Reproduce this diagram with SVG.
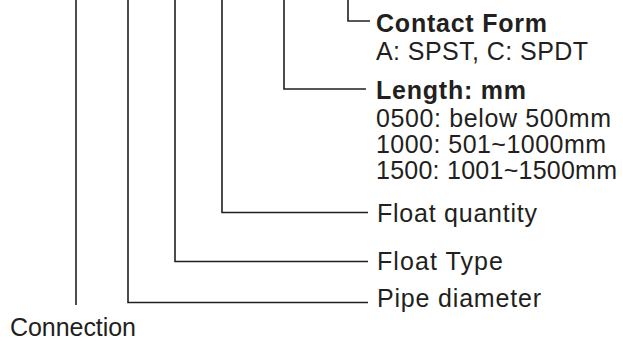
<svg xmlns="http://www.w3.org/2000/svg" width="623" height="341" viewBox="0 0 623 341">
<style>
.ln{fill:none;stroke:#231f20;stroke-width:1.6}
.t{font-family:"Liberation Sans",Arial,sans-serif;font-size:25px;fill:#231f20}
.b{font-weight:bold}
</style>
<rect width="623" height="341" fill="#fff"/>
<g id="connectors">
<polyline class="ln" points="348,0 348,21 370,21"/>
<polyline class="ln" points="284,0 284,89 366,89"/>
<polyline class="ln" points="222,0 222,212.5 368,212.5"/>
<polyline class="ln" points="175,0 175,261.5 368,261.5"/>
<polyline class="ln" points="128,0 128,302.5 368,302.5"/>
<polyline class="ln" points="76,0 76,305"/>
</g>
<g id="contact-form">
<text class="t b" x="376" y="31.5" textLength="171">Contact Form</text>
<text class="t" x="376" y="60" textLength="212">A: SPST, C: SPDT</text>
</g>
<g id="length">
<text class="t b" x="376" y="99" textLength="150">Length: mm</text>
<text class="t" x="376" y="127" textLength="235">0500: below 500mm</text>
<text class="t" x="376" y="153" textLength="230">1000: 501~1000mm</text>
<text class="t" x="376" y="179" textLength="241">1500: 1001~1500mm</text>
</g>
<g id="float-quantity"><text class="t" x="377" y="222" textLength="160">Float quantity</text></g>
<g id="float-type"><text class="t" x="377" y="270" textLength="126">Float Type</text></g>
<g id="pipe-diameter"><text class="t" x="377" y="307" textLength="164">Pipe diameter</text></g>
<g id="connection"><text class="t" x="10" y="336" textLength="126">Connection</text></g>
</svg>
